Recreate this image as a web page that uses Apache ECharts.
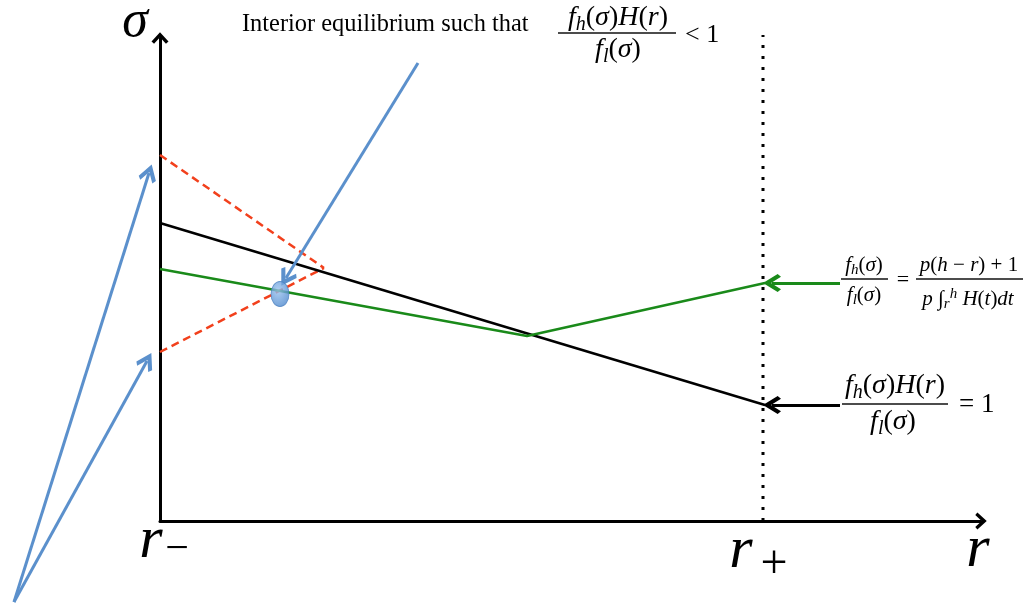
<!DOCTYPE html>
<html><head><meta charset="utf-8">
<script src="https://cdn.jsdelivr.net/npm/echarts@6/dist/echarts.min.js"></script>
<style>html,body{margin:0;padding:0;background:#fff}#c{width:1029px;height:607px}</style>
</head><body><div id="c"></div>
<script>
// Schematic values, measured from the origin (r-, 0) in picture units
const xRange = [0, 821];
const yRange = [0, 483];
const rPlus = 603;
const blackLine = [[0, 298], [605, 116]];
const greenLine = [[0, 252], [367, 185], [605, 238]];
const redUpper = [[0, 366], [164, 253]];
const redLower = [[0, 169], [164, 253]];
const equilibrium = [[120, 227]];
const dottedLine = [[rPlus, 0], [rPlus, 486]];
const blueArrows = [
  [[258, 458], [126, 243]],
  [[-146, -81], [-11, 348]],
  [[-146, -81], [-13, 160]]
];
const labelArrows = [
  {coords: [[680, 238], [612, 238]], color: '#1a8a1a'},
  {coords: [[680, 116], [612, 116]], color: '#000000'}
];
const xTickLabels = ['r', '\u2212', 'r', '+', 'r'];
const yAxisLabel = '\u03c3';
const topText = 'Interior equilibrium such that';

const chevronAxis = 'path://M10,0 L20,11 L17,13.5 L10,6 L3,13.5 L0,11 Z';
const chevronBold = 'path://M10,0 L20,11 L17,13.5 L10,6 L3,13.5 L0,11 Z';
const SERIF = '"Liberation Serif", "DejaVu Serif", serif';

function richStyles(F) {
  return {
    i: {fontFamily: SERIF, fontStyle: 'italic', fontSize: F, lineHeight: F * 1.2, fill: '#000'},
    n: {fontFamily: SERIF, fontSize: F, lineHeight: F * 1.2, fill: '#000'},
    sb: {fontFamily: SERIF, fontStyle: 'italic', fontSize: Math.round(F * 0.7), lineHeight: F * 0.72, verticalAlign: 'bottom', fill: '#000'},
    sp: {fontFamily: SERIF, fontStyle: 'italic', fontSize: Math.round(F * 0.7), lineHeight: F * 0.72, verticalAlign: 'top', fill: '#000'}
  };
}
function rt(x, y, text, F, align) {
  return {type: 'text', x: x, y: y, z: 10,
    style: {text: text, align: align || 'center', verticalAlign: 'middle', rich: richStyles(F), fill: '#000'}};
}
function bar(x1, x2, y) {
  return {type: 'rect', z: 10, shape: {x: x1, y: y - 0.8, width: x2 - x1, height: 1.6}, style: {fill: '#111'}};
}
function plain(x, y, text, font, align) {
  return {type: 'text', x: x, y: y, z: 10, style: {text: text, font: font, fill: '#000', align: align || 'center', verticalAlign: 'middle'}};
}

const numHr = '{i|f}{sb|h}{n|(}{i|\u03c3}{n|)}{i|H}{n|(}{i|r}{n|)}';
const denL = '{i|f}{sb|l}{n|(}{i|\u03c3}{n|)}';
const numH = '{i|f}{sb|h}{n|(}{i|\u03c3}{n|)}';
const numP = '{i|p}{n|(}{i|h}{n| \u2212 }{i|r}{n|) + 1}';
const denP = '{i|p}{n| \u222b}{sb|r}{sp|h}{n| }{i|H}{n|(}{i|t}{n|)}{i|dt}';

const graphics = [
  plain(135, 22, yAxisLabel, 'italic 52px ' + SERIF),
  plain(151, 541, xTickLabels[0], 'italic 60px ' + SERIF),
  plain(177, 550, xTickLabels[1], '42px ' + SERIF),
  plain(741, 551, xTickLabels[2], 'italic 60px ' + SERIF),
  plain(774, 565, xTickLabels[3], '48px ' + SERIF),
  plain(978, 550, xTickLabels[4], 'italic 60px ' + SERIF),
  plain(242, 25, topText, '24.4px ' + SERIF, 'left'),
  rt(618, 18, numHr, 28), bar(558, 676, 33), rt(618, 50, denL, 28),
  plain(685, 35, '< 1', '26px ' + SERIF, 'left'),
  rt(864, 265, numH, 21), bar(841, 888, 279), rt(864, 295, denL, 21),
  plain(903, 280, '=', '22px ' + SERIF),
  rt(969, 265, numP, 21), bar(916, 1023, 279), rt(968, 299, denP, 21),
  rt(895, 386, numHr, 28), bar(842, 948, 404), rt(893, 422, denL, 28),
  plain(959, 405, '= 1', '27px ' + SERIF, 'left')
];

const chart = echarts.init(document.getElementById('c'), null, {renderer: 'canvas'});
chart.setOption({
  animation: false,
  backgroundColor: '#ffffff',
  grid: {left: 160, right: 48, top: 38, bottom: 86},
  xAxis: {type: 'value', min: xRange[0], max: xRange[1],
    axisLine: {show: true, onZero: false, lineStyle: {color: '#000', width: 3}, symbol: ['none', chevronAxis], symbolSize: [17, 13]},
    axisTick: {show: false}, axisLabel: {show: false}, splitLine: {show: false}},
  yAxis: {type: 'value', min: yRange[0], max: yRange[1],
    axisLine: {show: true, onZero: false, lineStyle: {color: '#000', width: 3}, symbol: ['none', chevronAxis], symbolSize: [17, 13]},
    axisTick: {show: false}, axisLabel: {show: false}, splitLine: {show: false}},
  graphic: graphics,
  series: [
    {type: 'line', data: dottedLine, symbol: 'none', clip: false, z: 2,
      lineStyle: {color: '#000', width: 3, type: [3, 8], cap: 'butt'}},
    {type: 'line', data: redUpper, symbol: 'none', clip: false, z: 3,
      lineStyle: {color: '#f2401c', width: 2.5, type: [8, 5]}},
    {type: 'line', data: redLower, symbol: 'none', clip: false, z: 3,
      lineStyle: {color: '#f2401c', width: 2.5, type: [8, 5]}},
    {type: 'line', data: blackLine, symbol: 'none', clip: false, z: 4,
      lineStyle: {color: '#000', width: 2.5}},
    {type: 'line', data: greenLine, symbol: 'none', clip: false, z: 4,
      lineStyle: {color: '#1a8a1a', width: 2.5}},
    {type: 'scatter', data: equilibrium, symbol: 'circle', symbolSize: [18, 25], z: 6,
      itemStyle: {color: new echarts.graphic.RadialGradient(0.4, 0.35, 0.7, [
        {offset: 0, color: '#9cc3ef'}, {offset: 1, color: '#4a86cc'}]), borderColor: '#4a7fbf', borderWidth: 1}},
    {type: 'lines', coordinateSystem: 'cartesian2d', clip: false, z: 5,
      symbol: ['none', chevronBold], symbolSize: 18,
      lineStyle: {color: '#5b90cc', width: 3, opacity: 1, curveness: 0},
      data: blueArrows.map(c => ({coords: c}))},
    {type: 'lines', coordinateSystem: 'cartesian2d', clip: false, z: 5,
      symbol: ['none', chevronBold], symbolSize: 18,
      lineStyle: {width: 3, opacity: 1, curveness: 0},
      data: labelArrows.map(a => ({coords: a.coords, lineStyle: {color: a.color}}))}
  ]
});
</script>
</body></html>
